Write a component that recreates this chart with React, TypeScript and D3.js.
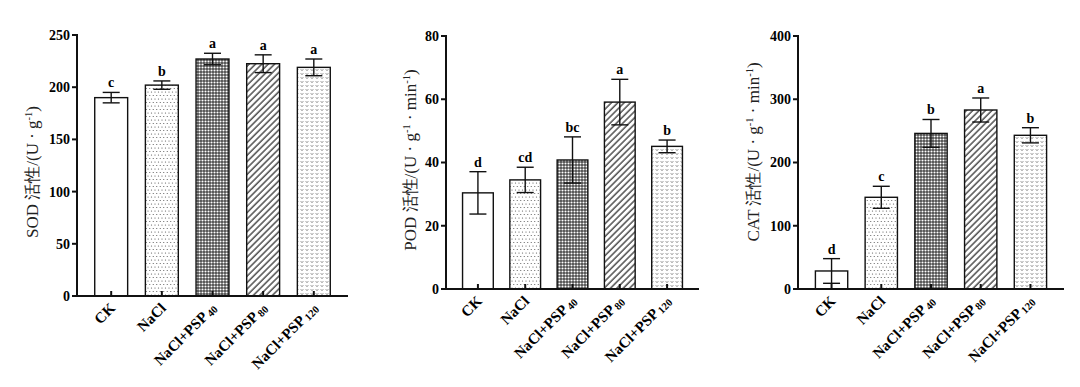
import React from 'react';
import * as d3 from 'd3';

// treatments
const labelBase = ['CK', 'NaCl', 'NaCl+PSP', 'NaCl+PSP', 'NaCl+PSP'];
const labelSub = ['', '', '40', '80', '120'];
const fills = ['#fff', 'url(#dots)', 'url(#checker)', 'url(#hatch)', 'url(#wave)'];

// SOD
const sodMean = [190, 202, 227, 222.5, 219];
const sodErr = [5, 4, 5.5, 8.5, 8];
const sodSig = ['c', 'b', 'a', 'a', 'a'];
const sodTicks = [0, 50, 100, 150, 200, 250];

// POD
const podMean = [30.4, 34.5, 40.8, 59.1, 45.1];
const podErr = [6.7, 4, 7.3, 7.2, 2];
const podSig = ['d', 'cd', 'bc', 'a', 'b'];
const podTicks = [0, 20, 40, 60, 80];

// CAT
const catMean = [28.5, 145, 246, 283, 243];
const catErr = [19.5, 17.4, 22, 19, 12];
const catSig = ['d', 'c', 'b', 'a', 'b'];
const catTicks = [0, 100, 200, 300, 400];

const serif = "'Liberation Serif', 'Times New Roman', serif";

type PanelProps = {
  x0: number; x1: number; yTop: number; yBot: number;
  mean: number[]; err: number[]; sig: string[]; ticks: number[];
  label: React.ReactNode; labelX: number; labelY: number;
};

const Panel = ({ x0, x1, yTop, yBot, mean, err, sig, ticks, label, labelX, labelY }: PanelProps) => {
  const x = d3.scaleBand<number>().domain(d3.range(mean.length)).range([x0, x1]).padding(0.35);
  const y = d3.scaleLinear().domain([0, ticks[ticks.length - 1]]).range([yBot, yTop]);
  const bw = x.bandwidth();
  const cap = 8.5;

  return (
    <g>
      {mean.map((m, i) => (
        <rect key={'b' + i} x={x(i)} y={y(m)} width={bw} height={y(0) - y(m)}
          fill={fills[i]} stroke="#111" strokeWidth={1.4} />
      ))}
      {mean.map((m, i) => {
        const cx = (x(i) as number) + bw / 2;
        return (
          <g key={'e' + i} stroke="#111" strokeWidth={1.4}>
            <line x1={cx} x2={cx} y1={y(m + err[i])} y2={y(m - err[i])} />
            <line x1={cx - cap} x2={cx + cap} y1={y(m + err[i])} y2={y(m + err[i])} />
            <line x1={cx - cap} x2={cx + cap} y1={y(m - err[i])} y2={y(m - err[i])} />
            <line x1={cx} x2={cx} y1={y(0)} y2={y(0) - 5} strokeWidth={2} />
          </g>
        );
      })}
      {mean.map((m, i) => (
        <text key={'s' + i} x={(x(i) as number) + bw / 2} y={y(m + err[i]) - 5}
          textAnchor="middle" fontFamily={serif} fontWeight="bold" fontSize={14}>{sig[i]}</text>
      ))}
      {/* axes */}
      <line x1={x0} x2={x0} y1={yTop - 1} y2={yBot + 1} stroke="#111" strokeWidth={2} />
      <line x1={x0 - 1} x2={x1} y1={yBot} y2={yBot} stroke="#111" strokeWidth={2} />
      {ticks.map((t) => (
        <g key={'t' + t}>
          <line x1={x0 - 5} x2={x0} y1={y(t)} y2={y(t)} stroke="#111" strokeWidth={2} />
          <text x={x0 - 7} y={y(t)} dy="0.35em" textAnchor="end" fontFamily={serif}
            fontWeight="bold" fontSize={14}>{t}</text>
        </g>
      ))}
      {labelBase.map((b, i) => {
        const cx = (x(i) as number) + bw / 2 + 5;
        return (
          <text key={'x' + i} transform={`translate(${cx},${yBot + 13}) rotate(-45)`}
            textAnchor="end" fontFamily={serif} fontWeight="bold" fontSize={15}>
            {b}
            {labelSub[i] && <tspan fontSize={10.5} dx={2} dy={1.5}>{labelSub[i]}</tspan>}
          </text>
        );
      })}
      <text transform={`translate(${labelX},${labelY}) rotate(-90)`} textAnchor="middle"
        fontFamily={serif} fontSize={17} fill="#222">{label}</text>
    </g>
  );
};

export default function App() {
  return (
    <svg width={1080} height={387} style={{ position: 'absolute', left: 0, top: 0, background: '#fff' }}>
      <defs>
        <pattern id="dots" width={7} height={7} patternUnits="userSpaceOnUse">
          <rect width={7} height={7} fill="#fff" />
          <circle cx={1} cy={1} r={0.6} fill="#555" />
          <circle cx={4.5} cy={1} r={0.6} fill="#555" />
          <circle cx={2.75} cy={4.5} r={0.6} fill="#555" />
          <circle cx={6.25} cy={4.5} r={0.6} fill="#555" />
        </pattern>
        <pattern id="checker" width={3} height={3} patternUnits="userSpaceOnUse">
          <rect width={3} height={3} fill="#4a4a4a" />
          <circle cx={1.5} cy={1.5} r={1.05} fill="#fff" />
        </pattern>
        <pattern id="hatch" width={4.5} height={4.5} patternUnits="userSpaceOnUse" patternTransform="rotate(45)">
          <rect width={4.5} height={4.5} fill="#fff" />
          <line x1={1} x2={1} y1={0} y2={4.5} stroke="#333" strokeWidth={1.3} />
        </pattern>
        <pattern id="wave" width={5} height={4} patternUnits="userSpaceOnUse">
          <rect width={5} height={4} fill="#fff" />
          <path d="M0.6,1 L2,2.8 L3.4,1" fill="none" stroke="#888" strokeWidth={0.8} />
        </pattern>
      </defs>
      <Panel x0={77} x1={348} yTop={35} yBot={296} mean={sodMean} err={sodErr} sig={sodSig}
        ticks={sodTicks} labelX={38} labelY={172}
        label={<>SOD 活性/(U · g<tspan fontSize={10.5} dy={-6}>-1</tspan><tspan dy={6}>)</tspan></>} />
      <Panel x0={446} x1={699} yTop={36} yBot={289} mean={podMean} err={podErr} sig={podSig}
        ticks={podTicks} labelX={416} labelY={160}
        label={<>POD 活性/(U · g<tspan fontSize={10.5} dy={-6}>-1</tspan><tspan dy={6}> · min</tspan><tspan fontSize={10.5} dy={-6}>-1</tspan><tspan dy={6}>)</tspan></>} />
      <Panel x0={798} x1={1064} yTop={36} yBot={289} mean={catMean} err={catErr} sig={catSig}
        ticks={catTicks} labelX={759} labelY={152}
        label={<>CAT 活性/(U · g<tspan fontSize={10.5} dy={-6}>-1</tspan><tspan dy={6}> · min</tspan><tspan fontSize={10.5} dy={-6}>-1</tspan><tspan dy={6}>)</tspan></>} />
    </svg>
  );
}
